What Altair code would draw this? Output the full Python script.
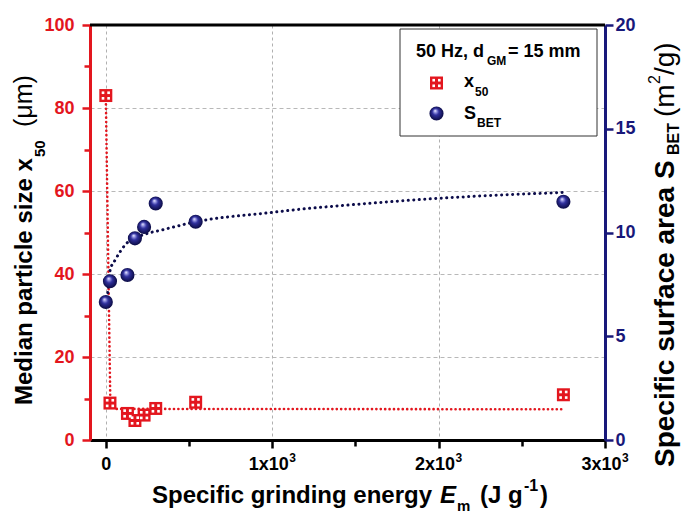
import altair as alt
import pandas as pd

# ---------------- data ----------------
energy = [0, 25, 130, 175, 230, 300, 540, 2750]
x50 = [83.0, 8.9, 6.4, 4.7, 6.0, 7.6, 9.1, 10.9]
sbet = [6.65, 7.65, 7.95, 9.72, 10.27, 11.4, 10.52, 11.48]

x50_fit_e = [0, 27, 50, 2750]
x50_fit_v = [83.0, 9.5, 7.5, 7.4]

sbet_fit_e = [12, 26, 56, 86, 116, 150, 200, 256, 336, 416, 496, 1000, 1166, 1406, 2006, 2750]
sbet_fit_v = [7.1, 8.19, 8.67, 9.07, 9.40, 9.65, 9.82, 9.97, 10.12, 10.28, 10.44, 10.97, 11.12, 11.29, 11.65, 11.93]

x_ticks = [0, 500, 1000, 1500, 2000, 2500, 3000]
x_sup_ticks = [1000, 2000, 3000]
left_ticks = [0, 10, 20, 30, 40, 50, 60, 70, 80, 90, 100]
right_ticks = [0, 5, 10, 15, 20]

legend_title = ["50 Hz, d", "GM", "= 15 mm"]
legend_x50 = ["x", "50"]
legend_sbet = ["S", "BET"]
left_title = ["Median particle size x", "50", "(\u03bcm)"]
right_title = ["Specific surface area S", "BET", "(m", "2", "/g)"]
bottom_title = ["Specific grinding energy", "E", "m", "(J g", "-1", ")"]

# ---------------- styling ----------------
RED = "#e3161e"
NAVY = "#18187a"
DOTBLUE = "#0c0c4a"
FONT = "Liberation Sans"
W, H = 515, 415

pts = pd.DataFrame({"E": energy, "x50": x50, "S": sbet})
fit_red = pd.DataFrame({"E": x50_fit_e, "x50": x50_fit_v})
fit_blue = pd.DataFrame({"E": sbet_fit_e, "S": sbet_fit_v})
sup_df = pd.DataFrame({"E": x_sup_ticks})

x_axis = alt.Axis(
    values=x_ticks, title=None,
    labelExpr="datum.value == 0 ? '0' : (datum.value % 1000 == 0 ? (datum.value/1000) + 'x10' : '')",
    labelFont=FONT, labelFontSize=18, labelFontWeight="bold", labelColor="black",
    labelPadding=7, labelFlush=False, labelOverlap=False,
    labelOffset={"condition": {"test": "datum.value == 0", "value": 0}, "value": -4},
    domainColor="black", domainWidth=3, tickColor="black", tickWidth=2.5,
    tickSize={"condition": {"test": "datum.value % 1000 == 0", "value": 8}, "value": 6},
    grid=True, gridColor="#b0b0b0", gridDash=[3, 3], gridWidth=1,
    gridOpacity={"condition": {"test": "datum.value % 1000 == 0", "value": 1}, "value": 0},
)
X = alt.X("E:Q", scale=alt.Scale(domain=[-95, 3000], nice=False, zero=False), axis=x_axis)

left_axis = alt.Axis(
    values=left_ticks, title=None, orient="left",
    labelExpr="datum.value % 20 == 0 ? datum.label : ''",
    labelFont=FONT, labelFontSize=18, labelFontWeight="bold", labelColor=RED,
    labelPadding=8, labelFlush=False, labelOverlap=False,
    domainColor=RED, domainWidth=3, tickColor=RED, tickWidth=2.5,
    tickSize={"condition": {"test": "datum.value % 20 == 0", "value": 8}, "value": 6},
    grid=True, gridColor="#b8b8b8", gridDash=[4, 3], gridWidth=1,
    gridOpacity={"condition": {"test": "datum.value % 20 == 0 && datum.value > 0 && datum.value < 100", "value": 1}, "value": 0},
)
YL = alt.Y("x50:Q", scale=alt.Scale(domain=[0, 100], nice=False, zero=True), axis=left_axis)

right_axis = alt.Axis(
    values=right_ticks, title=None, orient="right",
    labelFont=FONT, labelFontSize=18, labelFontWeight="bold", labelColor=NAVY,
    labelPadding=2, labelFlush=False, labelOverlap=False,
    domainColor=NAVY, domainWidth=3, tickColor=NAVY, tickWidth=2.5, tickSize=8,
    grid=False,
)
YR = alt.Y("S:Q", scale=alt.Scale(domain=[0, 20], nice=False, zero=True), axis=right_axis)

sphere_fill = alt.RadialGradient(
    gradient="radial", x1=0.4, y1=0.3, r1=0, x2=0.5, y2=0.5, r2=0.55,
    stops=[
        alt.GradientStop(color="#ffffff", offset=0),
        alt.GradientStop(color="#a8a8ec", offset=0.14),
        alt.GradientStop(color="#30309e", offset=0.42),
        alt.GradientStop(color="#060636", offset=1),
    ],
)

# ---------------- data layers ----------------
red_line = alt.Chart(fit_red).mark_line(
    color=RED, strokeWidth=2.6, strokeDash=[0.1, 4.3], strokeCap="round"
).encode(x=X, y=YL)
red_sq = alt.Chart(pts).mark_point(
    shape="square", filled=True, color=RED, size=169, opacity=1
).encode(x=X, y=YL)
holes = [
    alt.Chart(pts).mark_point(shape="square", filled=True, color="white", size=7, opacity=1,
                              xOffset=dx, yOffset=dy).encode(x=X, y=YL)
    for dx in (-2.8, 2.8) for dy in (-2.8, 2.8)
]
red_layer = alt.layer(red_line, red_sq, *holes)

blue_line = alt.Chart(fit_blue).mark_line(
    color=DOTBLUE, strokeWidth=3, strokeDash=[0.1, 5.4], strokeCap="round", interpolate="monotone"
).encode(x=X, y=YR)
blue_pts = alt.Chart(pts).mark_point(
    shape="circle", filled=True, fill=sphere_fill, size=200, opacity=1
).encode(x=X, y=YR)
blue_layer = alt.layer(blue_line, blue_pts)

# superscript "3" of the x tick labels (positioned by the x scale)
x_sup = alt.Chart(sup_df).mark_text(
    text="3", font=FONT, fontSize=12, fontWeight="bold", color="black",
    align="left", baseline="alphabetic", dx=17
).encode(x=X, y=alt.value(H + 22))

# ---------------- decorations (frame, legend, titles) ----------------
one = alt.Data(values=[{}])


def txt(t, x, y, size, weight="bold", angle=0, style="normal", color="black"):
    return alt.Chart(one).mark_text(
        text=t, font=FONT, fontSize=size, fontWeight=weight, fontStyle=style,
        angle=angle, align="left", baseline="alphabetic", color=color
    ).encode(x=alt.value(x), y=alt.value(y))


top_border = alt.Chart(one).mark_rule(color="black", strokeWidth=3).encode(
    x=alt.value(0), x2=alt.value(W), y=alt.value(0))

legend_box = alt.Chart(one).mark_rect(fill="white", stroke="#333333", strokeWidth=1).encode(
    x=alt.value(310), x2=alt.value(507), y=alt.value(4), y2=alt.value(111))

leg_sq = alt.Chart(one).mark_point(shape="square", filled=True, color=RED, size=169, opacity=1).encode(
    x=alt.value(346.5), y=alt.value(58))
leg_holes = [
    alt.Chart(one).mark_point(shape="square", filled=True, color="white", size=7, opacity=1).encode(
        x=alt.value(346.5 + dx), y=alt.value(58 + dy))
    for dx in (-2.8, 2.8) for dy in (-2.8, 2.8)
]
leg_sph = alt.Chart(one).mark_point(shape="circle", filled=True, fill=sphere_fill, size=200, opacity=1).encode(
    x=alt.value(346.5), y=alt.value(88.5))

legend_texts = [
    txt(legend_title[0], 326, 32, 18),
    txt(legend_title[1], 397, 40, 12),
    txt(legend_title[2], 418, 32, 18),
    txt(legend_x50[0], 374, 62, 18),
    txt(legend_x50[1], 385, 71, 12),
    txt(legend_sbet[0], 374, 94, 18),
    txt(legend_sbet[1], 387, 102, 12),
]

left_texts = [
    txt(left_title[0], -58, 380, 24, angle=270),
    txt(left_title[1], -45, 132, 15, angle=270),
    txt(left_title[2], -58, 102, 25, weight="normal", angle=270),
]

right_texts = [
    txt(right_title[0], 584, 442, 28, angle=270),
    txt(right_title[1], 589, 130, 16, angle=270),
    txt(right_title[2], 584, 92, 28, weight="normal", angle=270),
    txt(right_title[3], 570, 59, 16, weight="normal", angle=270),
    txt(right_title[4], 584, 50, 28, weight="normal", angle=270),
]

bottom_texts = [
    txt(bottom_title[0], 62, 478, 24),
    txt(bottom_title[1], 350, 478, 24, style="italic"),
    txt(bottom_title[2], 367, 486, 15),
    txt(bottom_title[3], 390, 478, 24),
    txt(bottom_title[4], 434, 466, 16),
    txt(bottom_title[5], 450, 478, 24),
]

chart = alt.layer(
    red_layer, blue_layer, x_sup, top_border, legend_box, leg_sq, *leg_holes, leg_sph,
    *legend_texts, *left_texts, *right_texts, *bottom_texts
).resolve_scale(y="independent").properties(
    width=W, height=H,
    padding={"left": 90, "top": 25, "right": 76, "bottom": 80},
    autosize="none", background="white",
).configure_view(stroke=None).configure(font=FONT)

chart.save("out.html", embed_options={"renderer": "svg", "actions": False})
